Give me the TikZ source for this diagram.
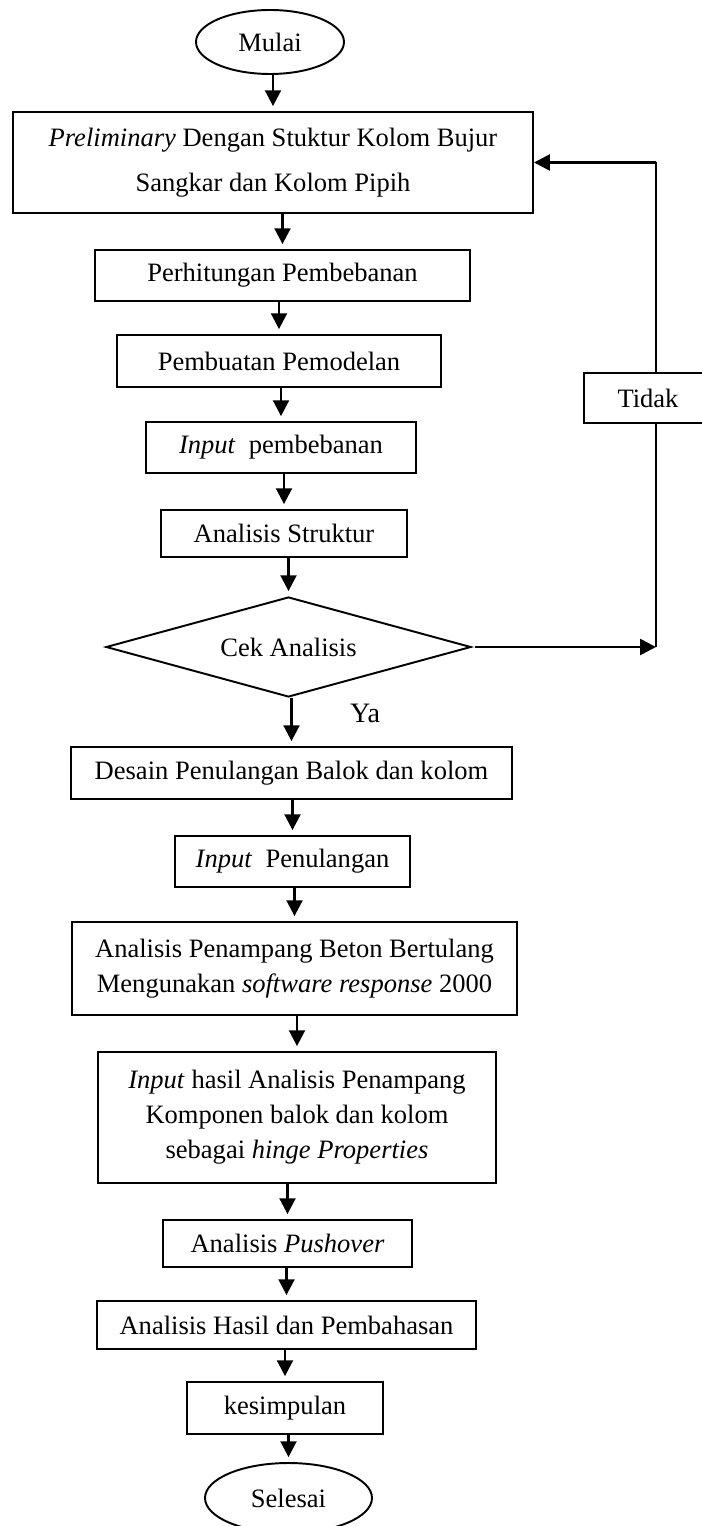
\documentclass[tikz,border=0pt]{standalone}
\usepackage{fontspec}
\setmainfont{Liberation Serif}
\usepackage{tikz}
\usetikzlibrary{arrows.meta}
\usetikzlibrary{shapes.geometric}

\begin{document}
\begin{tikzpicture}[line width=1.1pt,
    txt/.style={font=\fontsize{15.1}{19.9}\selectfont,align=center,inner sep=0pt},
    box/.style={txt,draw,rectangle},
    term/.style={txt,draw,ellipse},
    dec/.style={txt,draw,diamond,aspect=3.65},
    arr/.style={line width=1.5pt,-{Triangle[width=9pt,length=9pt]}},
    flow/.style={arr,shorten >=2.8pt}]
          \useasboundingbox (0,0) rectangle (14.04,-30.52);
          \node[term,minimum width=2.96cm,minimum height=1.28cm](m) at (5.40,-0.84) {Mulai};
          \node[box,minimum width=10.40cm,minimum height=2.02cm](pr) at (5.46,-3.25) {\textit{Preliminary} Dengan Stuktur Kolom Bujur\\[5.7pt]Sangkar dan Kolom Pipih};
          \node[box,minimum width=7.50cm,minimum height=1.02cm](ph) at (5.65,-5.51) {Perhitungan Pembebanan};
          \node[box,minimum width=6.48cm,minimum height=1.04cm](pm) at (5.58,-7.22) {Pembuatan Pemodelan};
          \node[box,minimum width=5.40cm,minimum height=1.02cm](pi) at (5.62,-8.95) {\textit{Input}~ pembebanan};
          \node[box,minimum width=4.92cm,minimum height=0.94cm](as) at (5.68,-10.67) {Analisis Struktur};
          \node[dec,minimum width=7.30cm,minimum height=2.00cm](ck) at (5.77,-12.94) {Cek Analisis};
          \node[box,minimum width=8.82cm,minimum height=1.04cm](ds) at (5.83,-15.46) {Desain Penulangan Balok dan kolom};
          \node[box,minimum width=4.70cm,minimum height=1.02cm](il) at (5.85,-17.23) {\textit{Input}~ Penulangan};
          \node[box,minimum width=8.90cm,minimum height=1.86cm](ap) at (5.89,-19.37) {Analisis Penampang Beton Bertulang\\Mengunakan \textit{software response} 2000};
          \node[box,minimum width=7.96cm,minimum height=2.62cm](ih) at (5.94,-22.35) {\textit{Input} hasil Analisis Penampang\\Komponen balok dan kolom\\sebagai \textit{hinge Properties}};
          \node[box,minimum width=4.98cm,minimum height=0.94cm](pu) at (5.75,-24.87) {Analisis \textit{Pushover}};
          \node[box,minimum width=7.58cm,minimum height=0.96cm](hb) at (5.73,-26.50) {Analisis Hasil dan Pembahasan};
          \node[box,minimum width=3.92cm,minimum height=1.04cm](ks) at (5.70,-28.16) {kesimpulan};
          \node[term,minimum width=3.34cm,minimum height=1.40cm](sl) at (5.77,-29.96) {Selesai};
          \node[txt,font=\fontsize{16}{19}\selectfont](ya) at (7.30,-14.26) {Ya};
          \draw[flow] (pr.north |- m.south) -- (pr.north);
          \draw[flow] (ph.north |- pr.south) -- (ph.north);
          \draw[flow] (pm.north |- ph.south) -- (pm.north);
          \draw[flow] (pi.north |- pm.south) -- (pi.north);
          \draw[flow] (as.north |- pi.south) -- (as.north);
          \draw[flow] (ck.north |- as.south) -- (ck.north);
          \draw[flow] (ds.north |- ck.south) -- (ds.north);
          \draw[flow] (il.north |- ds.south) -- (il.north);
          \draw[flow] (ap.north |- il.south) -- (ap.north);
          \draw[flow] (ih.north |- ap.south) -- (ih.north);
          \draw[flow] (pu.north |- ih.south) -- (pu.north);
          \draw[flow] (hb.north |- pu.south) -- (hb.north);
          \draw[flow] (ks.north |- hb.south) -- (ks.north);
          \draw[flow] (sl.north |- ks.south) -- (sl.north);
          \coordinate (r1) at (13.12,-12.94);
          \node[box,minimum width=2.56cm,minimum height=1.00cm,fill=white](td) at (12.96,-7.96) {Tidak};
          \coordinate (r2) at (r1 |- pr.east);
          \draw[arr,shorten <=2pt] (ck.east) -- (r1);
          \draw (r1) -- (r1 |- td.south);
          \draw (r1 |- td.north) -- (r2);
          \draw[arr] (r2) -- (pr.east);
      \end{tikzpicture}
\end{document}
